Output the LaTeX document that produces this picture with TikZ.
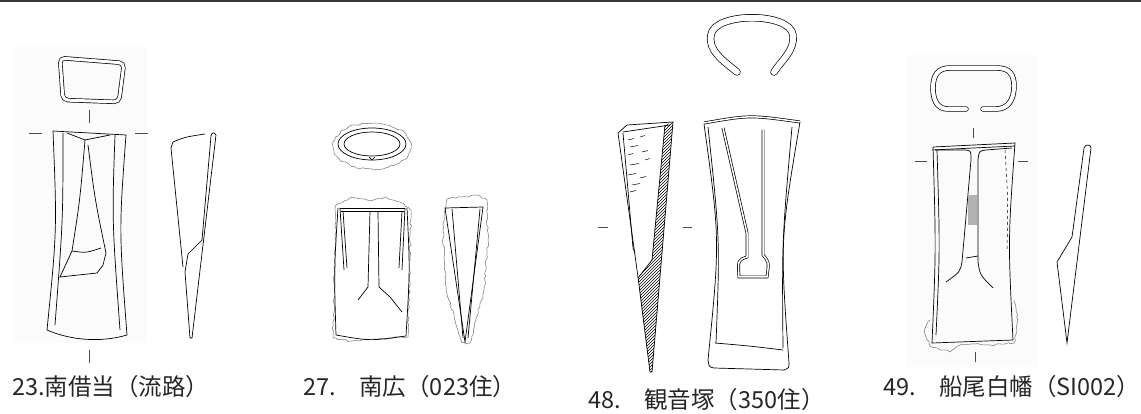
\documentclass[tikz,border=0pt]{standalone}
\usepackage{fontspec}
\newfontfamily\jpfont{Noto Sans CJK JP}
\usetikzlibrary{patterns, decorations.pathmorphing}

\begin{document}
\begin{tikzpicture}[x=1pt, y=-1pt, line width=0.7pt,
  every node/.style={inner sep=0pt, anchor=west, text=black!85, font=\jpfont\fontsize{23.5}{24}\selectfont},
  tick/.style={line width=1pt, black!70},
  ring/.style={double, double distance=3pt, line width=0.7pt, line cap=round},
  rough/.style={black!55, line width=0.5pt, decorate, decoration={random steps, segment length=3pt, amplitude=1pt}},
  backdrop/.style={fill=black!1.5, draw=none}]
\pgfmathsetseed{7}
\useasboundingbox (0,0) rectangle (1141,414);
\fill[black!78] (0,0) rectangle (1141,2.5);
\fill[backdrop] (15,47) rectangle (147,343);
\fill[backdrop] (907,55) rectangle (1037,367);

% 23 南借当
\draw[ring, rounded corners=5pt] (60,58) -- (124,63) -- (119,102) -- (63,100) -- cycle;
\draw[tick] (89,110) -- (89,123);
\draw[tick] (29,134) -- (42,134);
\draw[tick] (135,134) -- (148,134);
\draw[tick] (89,350) -- (89,363);
\draw (53,131) -- (126,135) .. controls (119,230) .. (127,335)
  .. controls (100,343) and (70,340) .. (47,330) .. controls (57,230) .. (53,131);
\draw (63,133) .. controls (63,220) .. (55,325);
\draw (115,135) .. controls (112,220) .. (120,330);
\draw (67,133) -- (85,140) -- (110,135);
\draw (85,140) .. controls (80,200) .. (72,251) -- (60,277) -- (97,273) -- (103,265) -- (106,253);
\draw (88,145) .. controls (95,200) .. (106,253);
\draw (72,251) .. controls (86,253) .. (101,248);
\draw (205,134) .. controls (185,137) .. (173,142) -- (171,148) -- (183,267);
\draw (211,136) -- (202,240) -- (188,254) -- (185,272) -- (190,338) -- (192,338) -- (216,135)
  .. controls (214,132) and (212,132) .. (211,136);
\node (lab23) at (12,387) {23.南借当（流路）};

% 27 南広
\draw[rough] (372,146) ellipse (39 and 23);
\draw (372,144) ellipse (34 and 16);
\draw (372,144) ellipse (28 and 12);
\draw (369,157) -- (372,160) -- (375,157);
\draw[rough] (336,205) -- (333,338) -- (350,341) -- (408,337) -- (411,210) -- (400,202) -- (385,197)
  -- (370,201) -- (352,197) -- cycle;
\draw (340,208) -- (405,208);
\draw (341,211) -- (404,211);
\draw (340,208) -- (344,270);
\draw (343,211) -- (347,268);
\draw (405,208) -- (402,270);
\draw (402,211) -- (399,268);
\draw (338,208) .. controls (334,270) .. (336,335) .. controls (370,341) .. (406,336) .. controls (410,270) .. (407,208);
\draw (370,211) -- (368,287) -- (358,300);
\draw (378,212) -- (379,287) -- (390,297) -- (402,312);
\draw[rough] (446,205) -- (447,199) -- (462,197) -- (477,195) -- (487,200) -- (488,240) -- (484,290)
  -- (470,343) -- (462,343) -- (446,290) -- (443,230) -- cycle;
\draw (445,208) -- (483,207) -- (465,342) -- cycle;
\draw (452,209) -- (463,338);
\draw (480,209) -- (468,338);
\node (lab27) at (303,387) {27.　南広（023住）};

% 48 観音塚
\draw[ring, double distance=6pt] (737,72) .. controls (722,60) and (708,50) .. (711,35)
  .. controls (714,12) and (790,12) .. (793,35) .. controls (795,50) and (782,60) .. (774,72);
\fill[pattern=north east lines] (665,125) -- (673,122) -- (652,372) -- (650,372) -- (638,278) -- (652,260) -- cycle;
\draw (618,133) -- (627,125) -- (673,122) -- (652,372) -- (650,372) -- (638,277) -- cycle;
\draw (623,133) -- (633,248) -- (635,253);
\draw (623,132) -- (670,125);
\draw (665,125) -- (652,260) -- (638,278);
\foreach \a/\b/\c in {628/140/6, 640/137/5, 630/147/8, 628/155/5, 642/152/6, 630/165/9,
  645/160/5, 628/175/8, 640/178/6, 632/185/8, 630/192/6}
  \draw[line width=0.5pt] (\a,\b) -- ++(\c,-1.5);
\draw[tick] (598,228) -- (608,228);
\draw[tick] (683,228) -- (692,228);
\draw[double, double distance=1.5pt] (704,123) .. controls (750,115) .. (800,122);
\draw (704,124) .. controls (720,240) .. (708,360) .. controls (709,367) .. (714,368)
  -- (784,370) .. controls (789,368) .. (789,363) .. controls (780,240) .. (800,122);
\draw (708,127) .. controls (720,240) .. (716,343);
\draw (792,127) .. controls (782,240) .. (783,348);
\draw (715,343) .. controls (750,346) .. (783,350);
\draw[double, double distance=1.5pt] (723,128) -- (747,233) -- (747,257) .. controls (738,260) .. (739,277)
  -- (767,277) .. controls (769,262) .. (763,255) -- (763,130);
\node (lab48) at (588,400) {48.　観音塚（350住）};

% 49 船尾白幡
\draw[ring, double distance=4pt] (966,109) -- (948,109) .. controls (937,109) and (933,100) .. (933,88)
  .. controls (933,75) and (938,68) .. (950,68) -- (997,68) .. controls (1010,68) and (1014,75) .. (1014,86)
  .. controls (1014,100) and (1008,109) .. (996,109) -- (983,109);
\draw[tick] (973,128) -- (973,138);
\draw[tick] (915,162) -- (927,162);
\draw[tick] (1018,162) -- (1028,162);
\draw[tick] (975,352) -- (975,362);
\draw[rough] (930,320) -- (924,330) -- (930,346) -- (950,352) -- (962,344) -- (990,345) -- (1014,343) -- (1018,320) -- (1014,300);
\draw (933,147) -- (1015,143) .. controls (1008,240) .. (1013,340) -- (932,343) .. controls (936,250) .. (933,147);
\draw (932,150) -- (1015,146);
\draw (937,150) .. controls (940,250) .. (936,335);
\draw (935,150) -- (966,150) .. controls (971,151) .. (971,160) -- (962,262) .. controls (960,272) .. (946,282);
\draw (1012,148) -- (986,150) .. controls (979,151) .. (978,160) -- (978,262) .. controls (980,275) .. (993,288);
\draw (966,258) -- (978,256);
\fill[black!30] (968,195) rectangle (977,225);
\draw[dashed, line width=0.5pt] (1005,150) .. controls (1008,200) .. (1007,250);
\draw (1084,148) .. controls (1085,144) and (1091,144) .. (1091,148) -- (1067,343) -- (1057,262) -- (1072,237) -- cycle;
\node (lab49) at (883,387) {49.　船尾白幡（SI002）};
\end{tikzpicture}
\end{document}
